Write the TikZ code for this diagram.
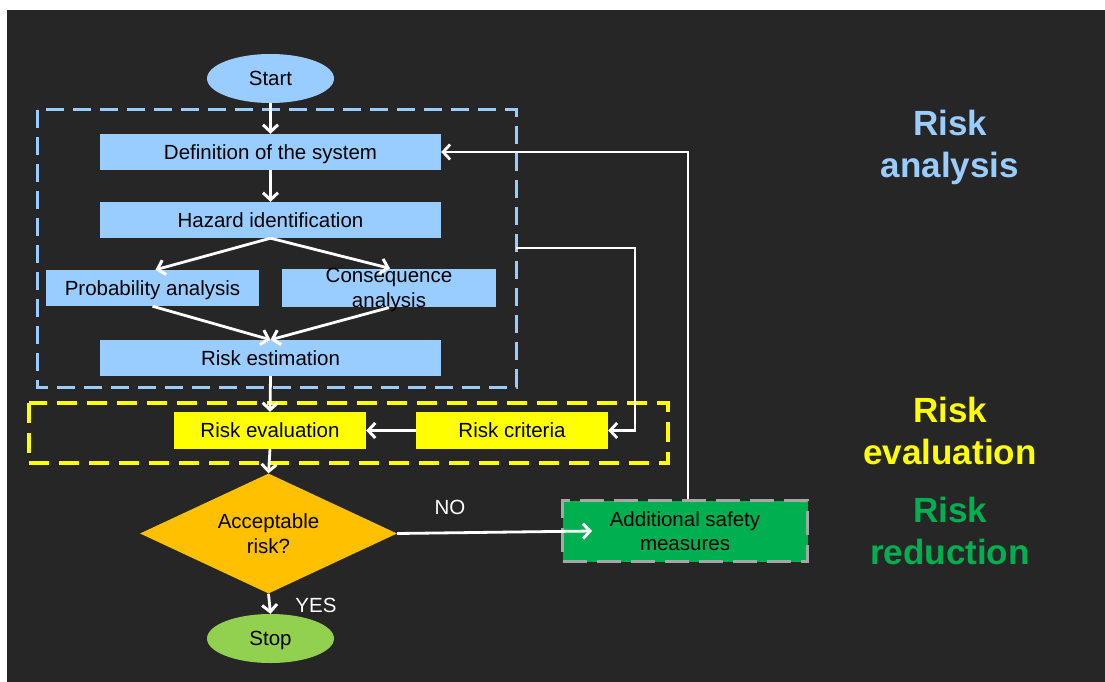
\documentclass[tikz,border=0pt]{standalone}
\usepackage{fontspec}
\setmainfont{Liberation Sans}
\usetikzlibrary{shapes.geometric,arrows.meta,calc}
\definecolor{bg}{HTML}{262626}
\definecolor{lblue}{HTML}{99CCFF}
\definecolor{ryellow}{HTML}{FFFF00}
\definecolor{rorange}{HTML}{FFC000}
\definecolor{rgreen}{HTML}{00B050}
\definecolor{lgreen}{HTML}{92D050}
\definecolor{rgray}{HTML}{A6A6A6}
\begin{document}
\begin{tikzpicture}[x=1pt,y=-1pt,
  txt/.style={font=\fontsize{20.5}{24.5}\selectfont, text=black, inner sep=0pt, align=center, text depth=0pt},
  bluebox/.style={txt, rectangle, fill=lblue, minimum width=341pt, minimum height=36pt},
  yelbox/.style={txt, rectangle, fill=ryellow, minimum width=192pt, minimum height=37pt},
  oval/.style={txt, ellipse, minimum width=127pt, minimum height=49pt},
  arr/.style={draw=white, line width=2.8pt, -{Straight Barb[length=7pt,width=15pt,line width=3pt]}},
  thinarr/.style={draw=white, line width=2.5pt, -{Straight Barb[length=7pt,width=15pt,line width=2.8pt]}},
  lbl/.style={font=\fontsize{20.5}{24.5}\selectfont, text=white, inner sep=0pt},
  side/.style={font=\bfseries\fontsize{35}{42}\selectfont, align=center, inner sep=0pt}
]
\useasboundingbox (0,0) rectangle (1105,682);
\fill[white] (0,0) rectangle (1105,682);
\fill[bg] (7,10) rectangle (1105,682);

% group frames
\draw[lblue, line width=3pt, dash pattern=on 18pt off 9pt] (37,110) rectangle (516,387);
\draw[ryellow, line width=3.5pt, dash pattern=on 20pt off 10pt] (29,403) rectangle (668,463);

% nodes
\node[oval, fill=lblue] (start) at (270.5,78.5) {Start};
\node[bluebox] (def) at (270.5,152) {Definition of the system};
\node[bluebox] (haz) at (270.5,220) {Hazard identification};
\node[bluebox, minimum width=213pt] (prob) at (152.5,288) {Probability analysis};
\node[bluebox, minimum width=214pt] (cons) at (389,288) {Consequence\\analysis};
\node[bluebox] (est) at (270.5,358) {Risk estimation};
\node[yelbox] (eval) at (270,430.5) {Risk evaluation};
\node[yelbox] (crit) at (512,430.5) {Risk criteria};
\node[txt, diamond, fill=rorange, minimum width=257pt, minimum height=120pt, aspect=2.14] (acc) at (268.5,533.5) {Acceptable\\risk?};
\node[oval, fill=lgreen] (stop) at (270.5,638.5) {Stop};
\node[txt, rectangle, fill=rgreen, draw=rgray, line width=3pt, dash pattern=on 24pt off 10pt, minimum width=245pt, minimum height=61pt] (add) at (685,531) {Additional safety\\measures};

% side labels
\node[side, text=lblue] (ra) at (950,147.5) {Risk\\analysis};
\node[side, text=ryellow] (re) at (950,431) {Risk\\evaluation};
\node[side, text=rgreen] (rr) at (950,531) {Risk\\reduction};

% connectors
\draw[arr] (start.south) -- (def.north);
\draw[arr] (def.south) -- (haz.north);
\draw[arr] (haz.south) -- ([xshift=3pt]prob.north);
\draw[arr] (haz.south) -- ([xshift=1pt]cons.north);
\draw[arr] (prob.south) -- (est.north);
\draw[arr] (cons.south) -- (est.north);
\draw[arr] (est.south) -- (eval.north);
\draw[arr] (crit.west) -- (eval.east);
\coordinate (tap) at (516,248);
\coordinate (j1) at (635,248);
\draw[thinarr] (tap) -- (j1) |- (crit.east);
\draw[arr] (eval.south) -- (acc.north);
\draw[arr] (acc.south) -- (stop.north);
\draw[arr] (acc.east) -- ([xshift=31pt]add.west);
\draw[thinarr] ([xshift=3pt]add.north) |- (def.east);

% branch labels
\node[lbl] (no) at (450,507) {NO};
\node[lbl] (yes) at (316,605) {YES};
\end{tikzpicture}
\end{document}
